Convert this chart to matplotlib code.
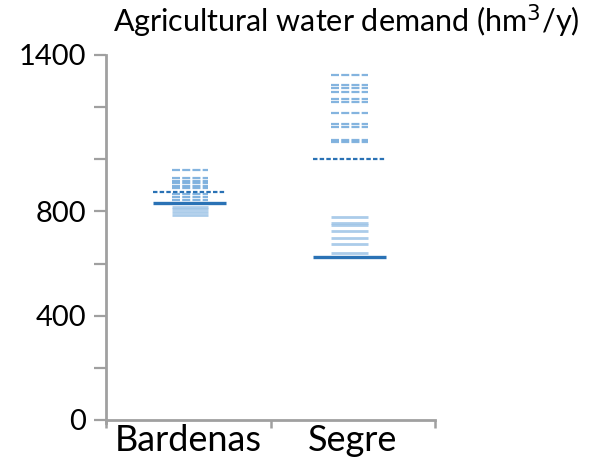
import matplotlib
matplotlib.use("Agg")
import matplotlib.pyplot as plt

# Agricultural water demand (hm3/y) per basin
basins = ["Bardenas", "Segre"]
baseline_current = [832, 624]      # solid reference line
baseline_future = [875, 1000]      # dashed reference line
scenarios_dashed = [
    [958, 927, 918, 908, 899, 889, 866, 855, 844],
    [1323, 1285, 1275, 1259, 1230, 1221, 1176, 1134, 1125, 1074, 1065],
]
scenarios_solid = [
    [818, 808, 797, 786],
    [780, 757, 748, 726, 697, 674, 639],
]
y_ticks = [0, 200, 400, 600, 800, 1000, 1200, 1400]
y_labels = ["0", "", "400", "", "800", "", "", "1400"]

plt.rcParams["font.family"] = ["Lato", "DejaVu Sans"]

fig = plt.figure(figsize=(5.98, 4.62), dpi=100)
ax = fig.add_axes([0.177, 0.091, 0.551, 0.790])

dark = "#2a72b5"
mid = "#5b9bd5"
light = "#9dc3e6"

# horizontal extents of the lines inside each category slot
wide = [(0.285, 0.73), (0.26, 0.70)]
narrow = [(0.40, 0.62), (0.365, 0.59)]

for i, name in enumerate(basins):
    x0n, x1n = i + narrow[i][0], i + narrow[i][1]
    for v in scenarios_solid[i]:
        ax.plot([x0n, x1n], [v, v], color=light, lw=2.0, alpha=0.85,
                solid_capstyle="butt")
    for v in scenarios_dashed[i]:
        ln, = ax.plot([x0n, x1n], [v, v], color=mid, lw=1.6, alpha=0.75,
                      solid_capstyle="butt")
        ln.set_dashes((3.6, 1.0))
    x0w, x1w = i + wide[i][0], i + wide[i][1]
    ln, = ax.plot([x0w, x1w], [baseline_future[i]] * 2, color=dark, lw=1.6)
    ln.set_dashes((2.0, 1.0))
    ax.plot([x0w, x1w], [baseline_current[i]] * 2, color=dark, lw=2.4,
            solid_capstyle="butt")

ax.set_xlim(0, 2)
ax.set_ylim(0, 1400)
ax.set_xticks([0, 1, 2])
ax.set_xticklabels([])
ax.set_xticks([0.5, 1.5], minor=True)
ax.set_xticklabels(basins, minor=True, fontsize=26)
ax.tick_params(axis="x", which="minor", length=0, pad=3)
ax.tick_params(axis="x", which="major", length=6, width=1.8, color="#a0a0a0",
               direction="out")
ax.set_yticks(y_ticks)
ax.set_yticklabels(y_labels, fontsize=21)
ax.tick_params(axis="y", length=9, width=1.6, color="#a0a0a0", direction="out",
               pad=5)

for side in ("top", "right"):
    ax.spines[side].set_visible(False)
for side in ("left", "bottom"):
    ax.spines[side].set_color("#a0a0a0")
    ax.spines[side].set_linewidth(2.0)
ax.spines["left"].set_bounds(-12, 1400)

fig.text(0.189, 0.929, "Agricultural water demand (hm$^3$/y)", fontsize=22,
         ha="left", va="baseline")

fig.savefig("out.png", dpi=100, facecolor="white")
